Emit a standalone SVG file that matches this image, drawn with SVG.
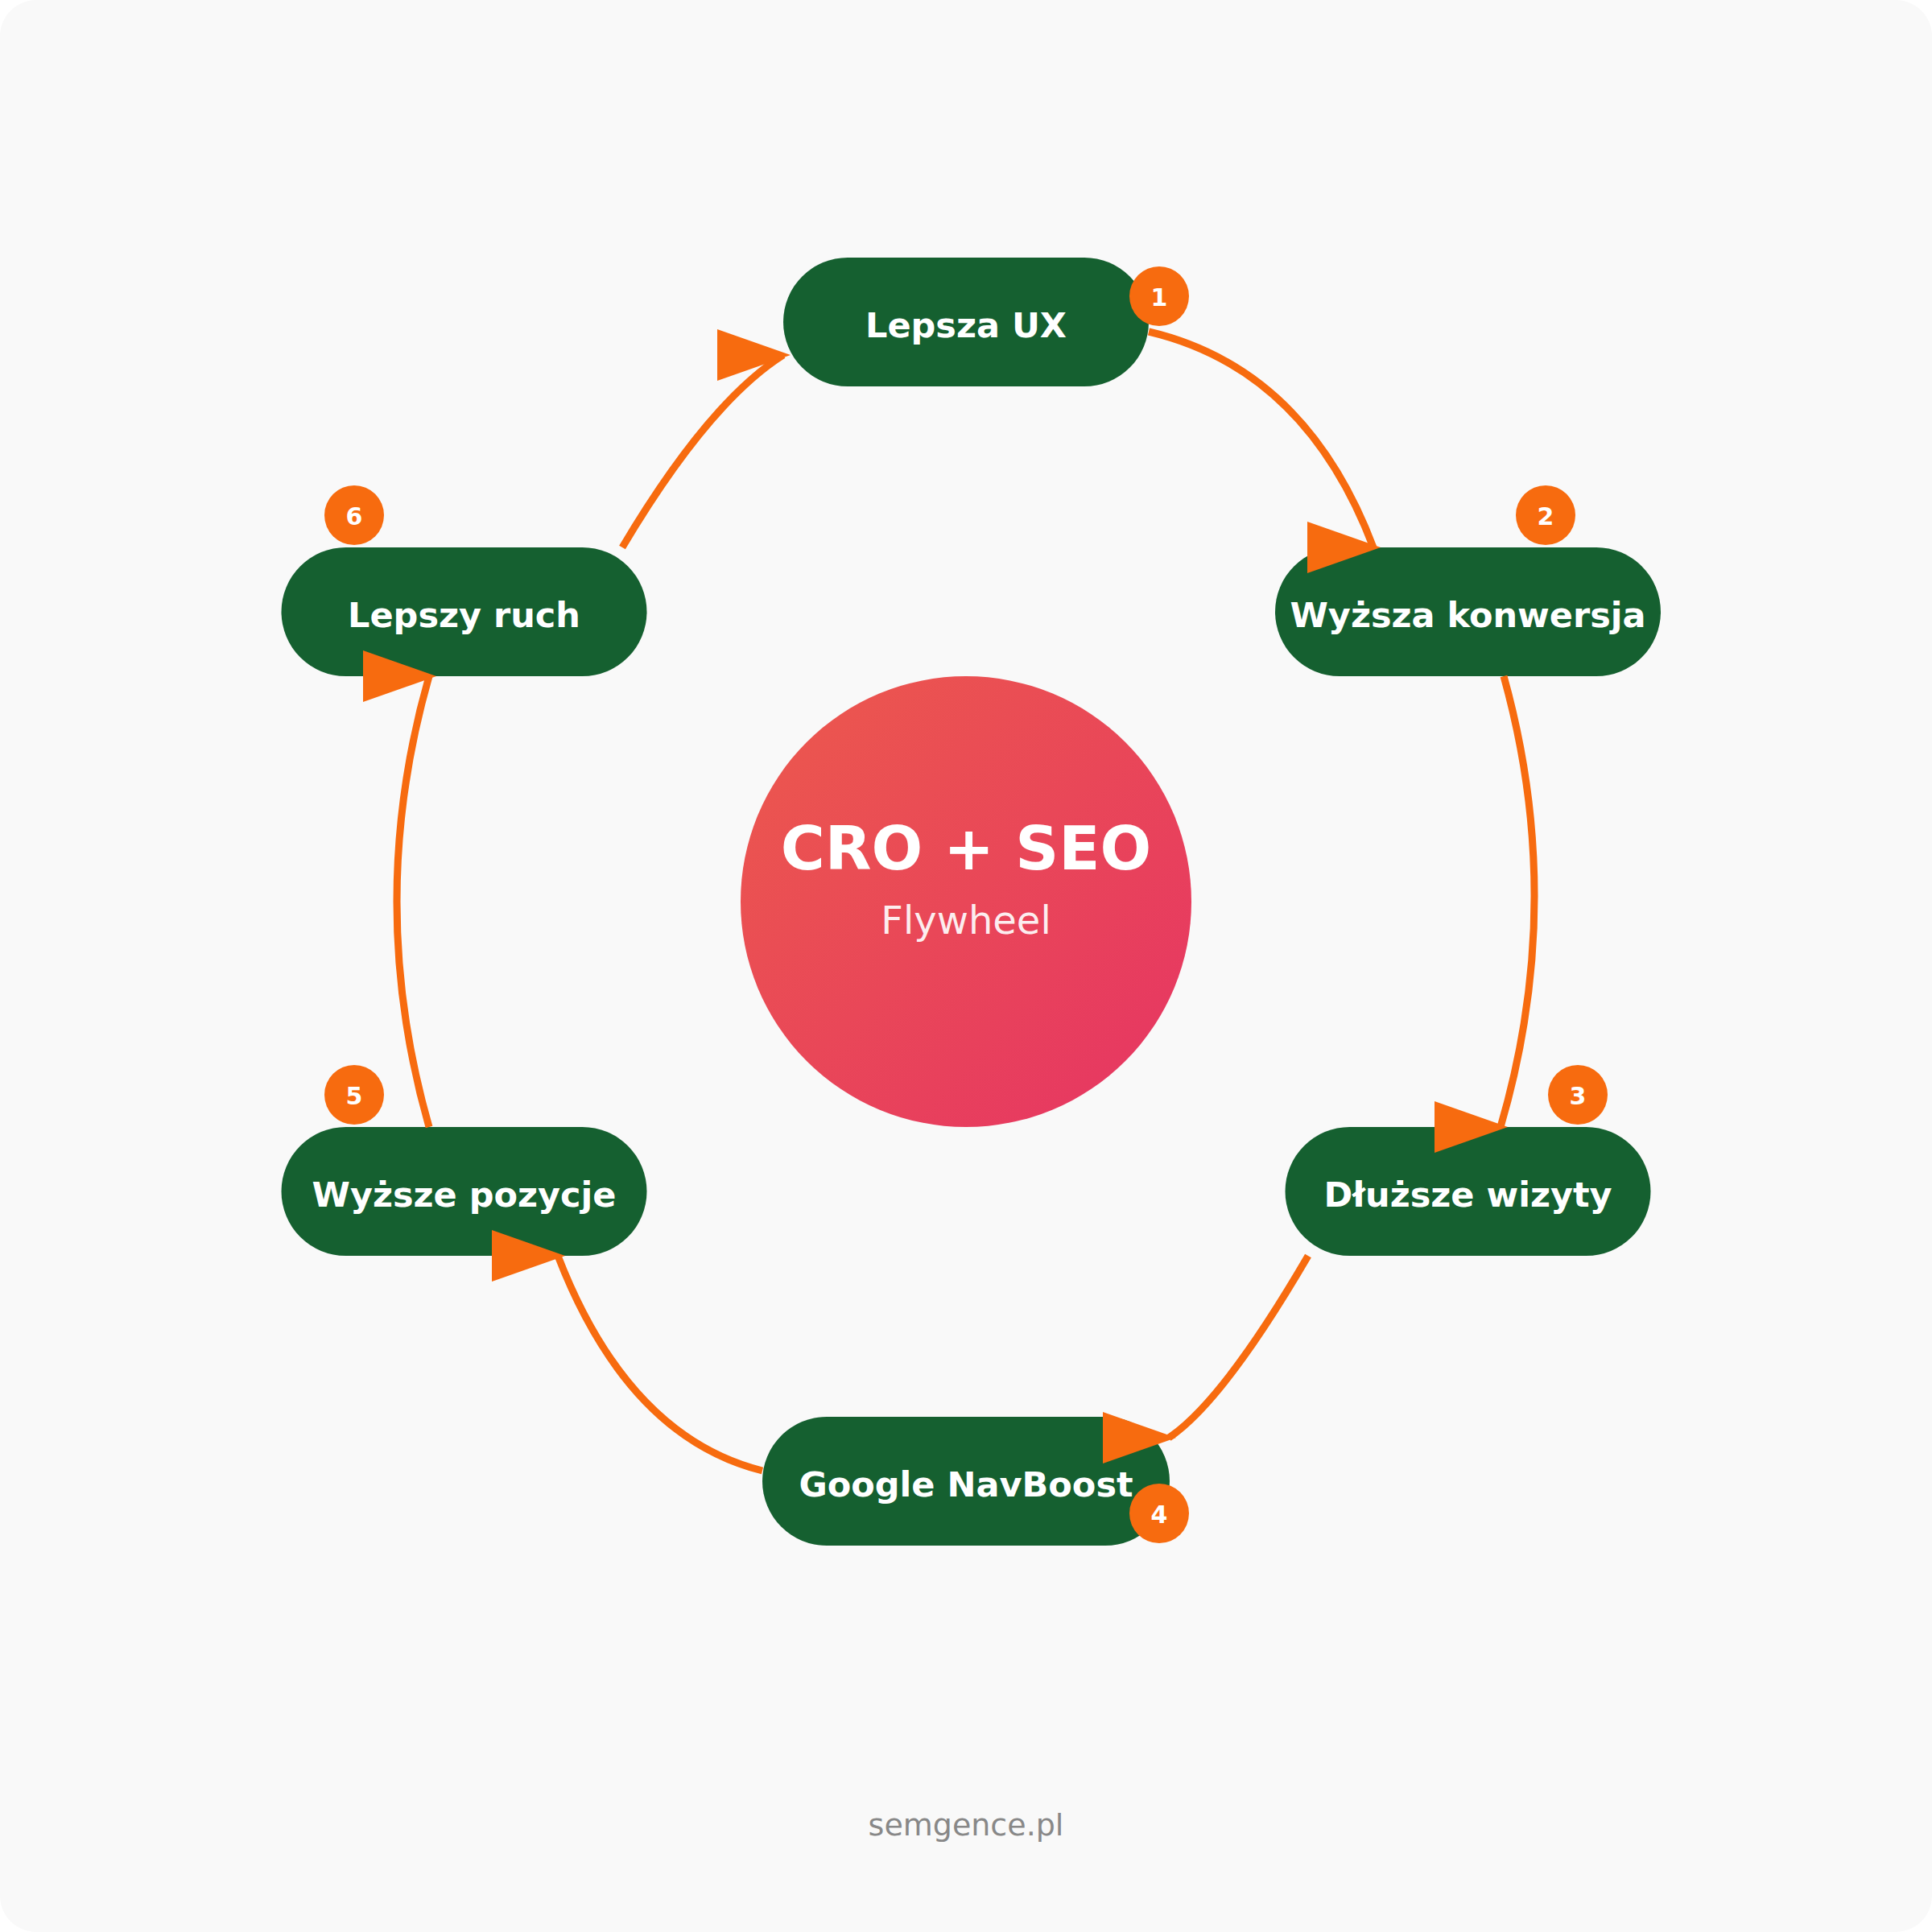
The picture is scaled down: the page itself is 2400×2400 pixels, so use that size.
<svg xmlns="http://www.w3.org/2000/svg" width="2400" height="2400" viewBox="0 0 2400 2400">
  <defs>
    <linearGradient id="hub" x1="0" y1="0" x2="1" y2="1">
      <stop offset="0" stop-color="#EC5A4C"/>
      <stop offset="1" stop-color="#E63464"/>
    </linearGradient>
    <marker id="arr" viewBox="0 0 10 7" refX="9" refY="3.5" markerWidth="10.2" markerHeight="7.1" markerUnits="strokeWidth">
      <polygon points="0,0 10,3.5 0,7" fill="#F76B0F"/>
    </marker>
    <style>
      .pill { fill: #156030; }
      .lbl { font-family: "DejaVu Sans", "Liberation Sans", sans-serif; font-weight: bold; font-size: 43px; fill: #ffffff; text-anchor: middle; }
      .badge { fill: #F76B0F; }
      .num { font-family: "DejaVu Sans", "Liberation Sans", sans-serif; font-weight: bold; font-size: 30px; fill: #ffffff; text-anchor: middle; }
      .conn { fill: none; stroke: #F76B0F; stroke-width: 9; marker-end: url(#arr); }
    </style>
  </defs>

  <rect x="0" y="0" width="2400" height="2400" fill="#ffffff"/>
  <rect x="0" y="0" width="2400" height="2400" rx="45" ry="45" fill="#F9F9F9"/>

  <g id="hub-node">
    <circle cx="1200" cy="1120" r="280" fill="url(#hub)"/>
    <text x="1200" y="1080" font-family="DejaVu Sans, Liberation Sans, sans-serif" font-weight="bold" font-size="75" fill="#ffffff" text-anchor="middle">CRO + SEO</text>
    <text x="1200" y="1160" font-family="DejaVu Sans, Liberation Sans, sans-serif" font-size="48" fill="#ffffff" fill-opacity="0.92" text-anchor="middle">Flywheel</text>
  </g>

  <g id="node-1">
    <rect class="pill" x="973" y="320" width="454" height="160" rx="80" ry="80"/>
    <text class="lbl" x="1200" y="419">Lepsza UX</text>
    <circle class="badge" cx="1440" cy="368" r="37"/>
    <text class="num" x="1440" y="380">1</text>
  </g>

  <g id="node-2">
    <rect class="pill" x="1584" y="680" width="479" height="160" rx="80" ry="80"/>
    <text class="lbl" x="1823.5" y="779">Wyższa konwersja</text>
    <circle class="badge" cx="1920" cy="640" r="37"/>
    <text class="num" x="1920" y="652">2</text>
  </g>

  <g id="node-3">
    <rect class="pill" x="1596.5" y="1400" width="454" height="160" rx="80" ry="80"/>
    <text class="lbl" x="1823.5" y="1499">Dłuższe wizyty</text>
    <circle class="badge" cx="1960" cy="1360" r="37"/>
    <text class="num" x="1960" y="1372">3</text>
  </g>

  <g id="node-4">
    <rect class="pill" x="947" y="1760" width="506" height="160" rx="80" ry="80"/>
    <text class="lbl" x="1200" y="1859">Google NavBoost</text>
    <circle class="badge" cx="1440" cy="1880" r="37"/>
    <text class="num" x="1440" y="1892">4</text>
  </g>

  <g id="node-5">
    <rect class="pill" x="349.5" y="1400" width="454" height="160" rx="80" ry="80"/>
    <text class="lbl" x="576.5" y="1499">Wyższe pozycje</text>
    <circle class="badge" cx="440" cy="1360" r="37"/>
    <text class="num" x="440" y="1372">5</text>
  </g>

  <g id="node-6">
    <rect class="pill" x="349.5" y="680" width="454" height="160" rx="80" ry="80"/>
    <text class="lbl" x="576.5" y="779">Lepszy ruch</text>
    <circle class="badge" cx="440" cy="640" r="37"/>
    <text class="num" x="440" y="652">6</text>
  </g>

  <g id="connectors">
    <path class="conn" d="M1427,412 Q1622,458 1706,680"/>
    <path class="conn" d="M1868,840 Q1946,1120 1864,1400"/>
    <path class="conn" d="M1625,1560 Q1520,1740 1452,1786"/>
    <path class="conn" d="M947,1827 Q780,1785 693,1560"/>
    <path class="conn" d="M533,1400 Q453,1120 533,840"/>
    <path class="conn" d="M773,680 Q880,500 973,441"/>
  </g>

  <text x="1200" y="2280" font-family="DejaVu Sans, Liberation Sans, sans-serif" font-size="38" fill="#888888" text-anchor="middle">semgence.pl</text>
</svg>
